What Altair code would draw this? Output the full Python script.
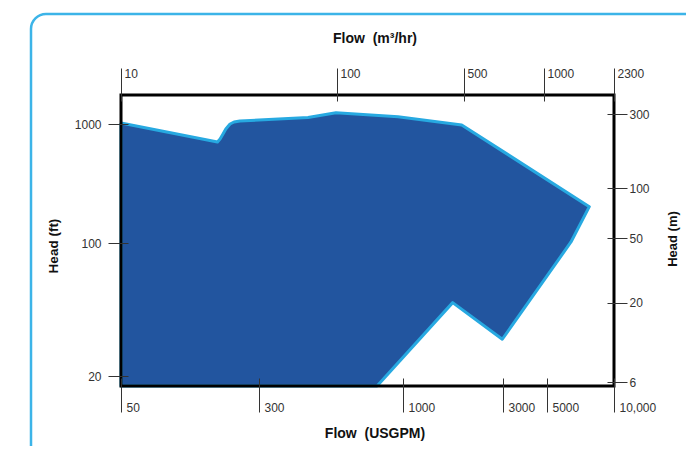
import altair as alt
import pandas as pd

# ---- data ----
# operating envelope polygon (USGPM, ft), clockwise, closed
poly_gpm = [50, 175, 181, 188, 195, 206, 217, 234, 452, 571, 959, 1906, 7745, 6409, 2977, 1726, 805, 50, 50]
poly_ft = [1020, 706, 748, 824, 908, 1000, 1039, 1060, 1134, 1245, 1152, 981, 202, 102, 31.2, 48.6, 17.7, 17.7, 1020]

gpm_ticks = [50, 300, 1000, 3000, 5000, 10000]
gpm_labels = ["50", "300", "1000", "3000", "5000", "10,000"]
m3h_ticks = [10, 100, 500, 1000, 2300]
m3h_labels = ["10", "100", "500", "1000", "2300"]
ft_ticks = [1000, 100, 20]
ft_labels = ["1000", "100", "20"]
m_ticks = [300, 100, 50, 20, 6]
m_labels = ["300", "100", "50", "20", "6"]

# scale breakpoints as drawn in the original (its axes are hand-placed)
gpm_dom = [50, 300, 1000, 3000, 5000, 10000]
gpm_rng = [0, 138, 282, 382, 426, 493]
m3h_dom = [10, 100, 500, 1000, 2300]
m3h_rng = [0, 216, 343, 423, 493]
ft_dom = [17.7, 20, 100, 1000, 1754]
ft_rng = [291, 281, 148, 29, 0]
m_dom = [5.65, 6, 20, 50, 100, 300, 398]
m_rng = [291, 287, 207.5, 143, 93, 19, 0]

W, H = 493, 291
FONT = "Liberation Sans"
FILL = "#22559f"
EDGE = "#27a9e1"


def label_expr(vals, labs):
    parts = [f"datum.value == {v} ? '{l}'" for v, l in zip(vals, labs)]
    return " : ".join(parts) + " : ''"


common = dict(domain=False, grid=False, title=None, labelFont=FONT, labelFontSize=12,
              labelColor="#333", tickColor="#333", tickWidth=1, labelFlush=False,
              labelOverlap=False, zindex=1)

poly_df = pd.DataFrame({"gpm": poly_gpm, "ft": poly_ft, "i": list(range(len(poly_gpm)))})

polygon = alt.Chart(poly_df).mark_line(
    fill=FILL, stroke=EDGE, strokeWidth=3, strokeJoin="round"
).encode(
    x=alt.X("gpm:Q", scale=alt.Scale(type="log", domain=gpm_dom, range=gpm_rng, nice=False),
            axis=alt.Axis(orient="bottom", values=gpm_ticks, labelExpr=label_expr(gpm_ticks, gpm_labels),
                          tickSize=34, offset=-8, labelAlign="left", labelOffset=5,
                          labelBaseline="alphabetic", labelPadding=-1, **common)),
    y=alt.Y("ft:Q", scale=alt.Scale(type="log", domain=ft_dom, range=ft_rng, nice=False),
            axis=alt.Axis(orient="left", values=ft_ticks, labelExpr=label_expr(ft_ticks, ft_labels),
                          tickSize=20, offset=-7, labelPadding=7, **common)),
    order=alt.Order("i:Q"),
)

top_axis = alt.Chart(pd.DataFrame({"m3h": m3h_ticks})).mark_point(opacity=0).encode(
    x=alt.X("m3h:Q", scale=alt.Scale(type="log", domain=m3h_dom, range=m3h_rng, nice=False),
            axis=alt.Axis(orient="top", values=m3h_ticks, labelExpr=label_expr(m3h_ticks, m3h_labels),
                          tickSize=33, offset=-6, labelAlign="left", labelOffset=3,
                          labelBaseline="alphabetic", labelPadding=-9, **common)),
)

right_axis = alt.Chart(pd.DataFrame({"m": m_ticks})).mark_point(opacity=0).encode(
    y=alt.Y("m:Q", scale=alt.Scale(type="log", domain=m_dom, range=m_rng, nice=False),
            axis=alt.Axis(orient="right", values=m_ticks, labelExpr=label_expr(m_ticks, m_labels),
                          tickSize=20, offset=-7, labelPadding=2, **common)),
)

one = pd.DataFrame({"k": [0]})
frame = alt.Chart(one).mark_rect(fill=None, stroke="#000", strokeWidth=3).encode(
    x=alt.value(0), x2=alt.value(W), y=alt.value(0), y2=alt.value(H)
)
border = alt.Chart(one).mark_rect(fill=None, stroke="#3cb4e8", strokeWidth=2.5, cornerRadius=15).encode(
    x=alt.value(-90), x2=alt.value(640), y=alt.value(-81), y2=alt.value(420)
)


def title(txt, x, y, angle=0, size=14):
    return alt.Chart(pd.DataFrame({"t": [txt]})).mark_text(
        font=FONT, fontWeight="bold", fontSize=size, color="#111", angle=angle,
        align="center", baseline="middle"
    ).encode(text="t:N", x=alt.value(x), y=alt.value(y))


titles = [
    title("Flow\u00a0 (m³/hr)", 254, -56),
    title("Flow\u00a0 (USGPM)", 254, 339),
    title("Head (ft)", -67, 151, 270, 13.5),
    title("Head (m)", 552, 144, 270, 13),
]

chart = alt.layer(border, polygon, frame, top_axis, right_axis, *titles).resolve_scale(
    x="independent", y="independent"
).resolve_axis(x="independent", y="independent").properties(
    width=W, height=H,
    autosize=alt.AutoSizeParams(type="none"),
    padding={"left": 113, "top": 87, "right": 72, "bottom": 60},
    background="white",
).configure_view(stroke=None)

chart.save("out.html", embed_options={"renderer": "svg", "actions": False})
